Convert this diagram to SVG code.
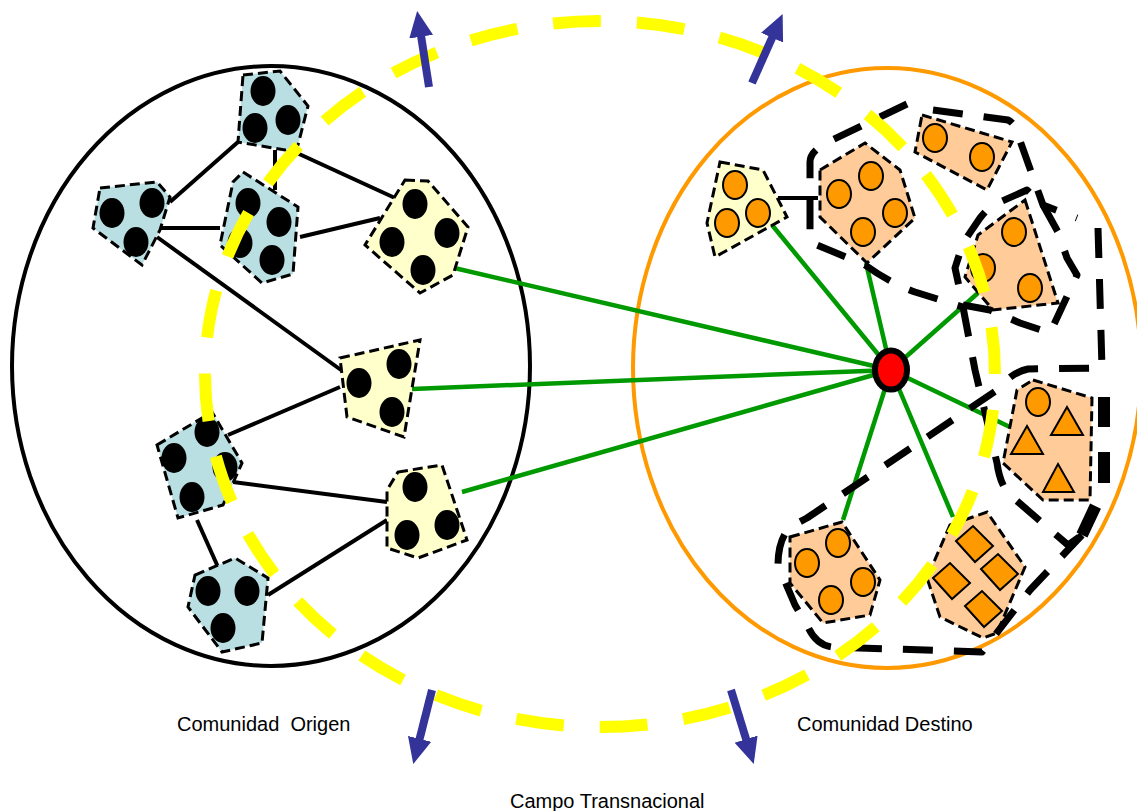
<svg xmlns="http://www.w3.org/2000/svg" width="1137" height="811" viewBox="0 0 1137 811">
<defs>
<style>
.comm{fill:none;stroke-width:4}
.edge{stroke:#000;stroke-width:4;fill:none}
.link{stroke:#009900;stroke-width:4.5;fill:none}
.blue{fill:#BADFE3;stroke:#000;stroke-width:3;stroke-dasharray:10 5}
.yel{fill:#FFFFCC;stroke:#000;stroke-width:3;stroke-dasharray:10 5}
.org{fill:#FFCC99;stroke:#000;stroke-width:3;stroke-dasharray:10 5}
.bd{fill:#000}
.od{fill:#FF9900;stroke:#000;stroke-width:2}
.grp{fill:none;stroke:#000;stroke-width:7;stroke-dasharray:30 21;stroke-linejoin:round}
.field{fill:none;stroke:#FFFF00;stroke-width:12;stroke-dasharray:48 36;stroke-dashoffset:48}
.arr{stroke:#333399;stroke-width:8;fill:none;marker-end:url(#ah)}
.lbl{font-family:"Liberation Sans",Arial,sans-serif;font-size:20px;fill:#000}
</style>
<marker id="ah" markerUnits="userSpaceOnUse" viewBox="-1 -13 28 26" refX="0" refY="0" markerWidth="28" markerHeight="26" orient="auto">
<path d="M-1,-12 L25,0 L-1,12 Z" fill="#333399"/>
</marker>
</defs>

<g id="communities">
<ellipse id="comunidad-origen" class="comm" cx="271" cy="366" rx="259" ry="300" stroke="#000"/>
<ellipse id="comunidad-destino" class="comm" cx="887" cy="368" rx="254" ry="300" stroke="#FF9900" stroke-width="4.5"/>
</g>

<g id="connectors">
<line class="edge" x1="170" y1="202" x2="238" y2="142"/>
<line class="edge" x1="157" y1="228" x2="220" y2="228"/>
<line class="edge" x1="157" y1="237" x2="341" y2="370"/>
<line class="edge" x1="275" y1="150" x2="275" y2="190"/>
<line class="edge" x1="297" y1="153" x2="395" y2="198"/>
<line class="edge" x1="300" y1="237" x2="380" y2="218"/>
<line class="edge" x1="228" y1="435" x2="340" y2="387"/>
<line class="edge" x1="233" y1="482" x2="387" y2="502"/>
<line class="edge" x1="197" y1="520" x2="218" y2="567"/>
<line class="edge" x1="268" y1="595" x2="387" y2="520"/>
<line class="edge" x1="778" y1="198" x2="818" y2="198"/>
<line class="link" x1="450" y1="267" x2="891" y2="370"/>
<line class="link" x1="412" y1="389" x2="891" y2="370"/>
<line class="link" x1="462" y1="492" x2="891" y2="370"/>
<line class="link" x1="772" y1="225" x2="891" y2="370"/>
<line class="link" x1="866" y1="263" x2="891" y2="370"/>
<line class="link" x1="978" y1="293" x2="891" y2="370"/>
<line class="link" x1="1012" y1="428" x2="891" y2="370"/>
<line class="link" x1="953" y1="517" x2="891" y2="370"/>
<line class="link" x1="843" y1="520" x2="891" y2="370"/>
</g>

<g id="node-L1">
<polygon class="blue" points="243,75 280,71 308,106 298,145 285,150 238,142"/>
<ellipse class="bd" cx="263" cy="91" rx="12.5" ry="15"/>
<ellipse class="bd" cx="288" cy="120" rx="12.5" ry="15"/>
<ellipse class="bd" cx="255" cy="128" rx="12.5" ry="15"/>
</g>
<g id="node-L2">
<polygon class="blue" points="100,188 157,182 170,197 160,230 142,265 93,228"/>
<ellipse class="bd" cx="112" cy="213" rx="12.5" ry="15"/>
<ellipse class="bd" cx="152" cy="203" rx="12.5" ry="15"/>
<ellipse class="bd" cx="136" cy="242" rx="12.5" ry="15"/>
</g>
<g id="node-L3">
<polygon class="blue" points="243,172 298,207 293,274 262,283 220,245 233,182"/>
<ellipse class="bd" cx="248" cy="203" rx="12.5" ry="15"/>
<ellipse class="bd" cx="279" cy="222" rx="12.5" ry="15"/>
<ellipse class="bd" cx="240" cy="243" rx="12.5" ry="15"/>
<ellipse class="bd" cx="272" cy="260" rx="12.5" ry="15"/>
</g>
<g id="node-L4">
<polygon class="yel" points="405,180 428,181 468,227 453,275 420,293 365,245"/>
<ellipse class="bd" cx="415" cy="204" rx="12.5" ry="15"/>
<ellipse class="bd" cx="447" cy="233" rx="12.5" ry="15"/>
<ellipse class="bd" cx="392" cy="242" rx="12.5" ry="15"/>
<ellipse class="bd" cx="423" cy="270" rx="12.5" ry="15"/>
</g>
<g id="node-L5">
<polygon class="yel" points="340,358 420,340 404,437 347,417"/>
<ellipse class="bd" cx="359" cy="383" rx="12.5" ry="15"/>
<ellipse class="bd" cx="399" cy="364" rx="12.5" ry="15"/>
<ellipse class="bd" cx="392" cy="412" rx="12.5" ry="15"/>
</g>
<g id="node-L6">
<polygon class="blue" points="157,445 212,412 242,463 223,505 178,518"/>
<ellipse class="bd" cx="207" cy="432" rx="12.5" ry="15"/>
<ellipse class="bd" cx="174" cy="458" rx="12.5" ry="15"/>
<ellipse class="bd" cx="225" cy="467" rx="12.5" ry="15"/>
<ellipse class="bd" cx="192" cy="497" rx="12.5" ry="15"/>
</g>
<g id="node-L7">
<polygon class="yel" points="398,472 442,465 467,540 418,558 387,548 387,490"/>
<ellipse class="bd" cx="415" cy="487" rx="12.5" ry="15"/>
<ellipse class="bd" cx="407" cy="535" rx="12.5" ry="15"/>
<ellipse class="bd" cx="447" cy="525" rx="12.5" ry="15"/>
</g>
<g id="node-L8">
<polygon class="blue" points="195,575 235,558 268,578 262,643 222,652 188,607"/>
<ellipse class="bd" cx="208" cy="591" rx="12.5" ry="15"/>
<ellipse class="bd" cx="247" cy="591" rx="12.5" ry="15"/>
<ellipse class="bd" cx="223" cy="628" rx="12.5" ry="15"/>
</g>

<g id="node-R1">
<polygon class="yel" points="720,162 763,170 787,217 715,257 707,223"/>
<ellipse class="od" cx="735" cy="185" rx="12" ry="14"/>
<ellipse class="od" cx="727" cy="223" rx="12" ry="14"/>
<ellipse class="od" cx="758" cy="213" rx="12" ry="14"/>
</g>
<g id="node-R2">
<polygon class="org" points="820,170 865,143 900,170 915,218 867,263 820,217"/>
<ellipse class="od" cx="839" cy="194" rx="12" ry="14"/>
<ellipse class="od" cx="871" cy="176" rx="12" ry="14"/>
<ellipse class="od" cx="895" cy="213" rx="12" ry="14"/>
<ellipse class="od" cx="863" cy="232" rx="12" ry="14"/>
</g>
<g id="node-R3">
<polygon class="org" points="922,115 1012,142 987,190 915,152"/>
<ellipse class="od" cx="935" cy="138" rx="12" ry="14"/>
<ellipse class="od" cx="982" cy="157" rx="12" ry="14"/>
</g>
<g id="node-R4">
<polygon class="org" points="1025,200 1058,303 993,310 965,277 978,235"/>
<ellipse class="od" cx="1014" cy="232" rx="12" ry="14"/>
<ellipse class="od" cx="983" cy="268" rx="12" ry="14"/>
<ellipse class="od" cx="1030" cy="288" rx="12" ry="14"/>
</g>
<g id="node-R5">
<polygon class="org" points="1033,380 1092,398 1090,500 1043,500 1003,463 1017,390"/>
<ellipse class="od" cx="1038" cy="402" rx="12" ry="14"/>
<polygon class="od" points="1067,407 1083,435 1051,435"/>
<polygon class="od" points="1027,426 1043,454 1011,454"/>
<polygon class="od" points="1058,464 1074,492 1043,492"/>
</g>
<g id="node-R6">
<polygon class="org" points="790,537 842,522 880,580 870,615 823,623 790,583"/>
<ellipse class="od" cx="838" cy="543" rx="12" ry="14"/>
<ellipse class="od" cx="807" cy="563" rx="12" ry="14"/>
<ellipse class="od" cx="863" cy="582" rx="12" ry="14"/>
<ellipse class="od" cx="831" cy="600" rx="12" ry="14"/>
</g>
<g id="node-R7">
<polygon class="org" points="950,525 987,512 1025,567 997,633 983,638 940,617 927,578"/>
<polygon class="od" points="956,541 973,526 993,546 975,562"/>
<polygon class="od" points="981,569 998,554 1018,574 1000,590"/>
<polygon class="od" points="933,578 950,563 970,583 952,599"/>
<polygon class="od" points="965,606 982,591 1002,611 984,627"/>
</g>

<g id="group-outlines">
<path class="grp" d="M907,104 L832,140 Q810,150 810,162 L810,242 L865,265 Q890,283 915,292 L963,307"/>
<path class="grp" d="M933,110 L1008,120 Q1016,124 1018,135 L1043,205 L1077,218"/>
<path class="grp" d="M1043,205 L1058,232 L1067,258 L1077,275 L1050,333 L1020,323 L990,310 L963,305 L955,268 L963,243 L980,218 Q990,205 1000,202 L1027,190 Z"/>
<path class="grp" d="M963,307 L975,370 L997,463 Q1000,485 1010,495 L1068,545 L1082,535"/>
<path class="grp" d="M1098,228 L1102,368 L1028,369 Q1012,372 1000,388 L807,518 L790,527 Q778,540 778,565 L795,605 L808,627 Q816,645 832,647 L982,652 L1030,590 L1082,535"/>
<path class="grp" style="stroke-width:12;stroke-dasharray:0 25 30 25 31 25 40" d="M1104,372 L1104,488 L1082,535"/>
</g>

<g id="node-hub">
<ellipse cx="891" cy="370" rx="16" ry="19.5" fill="#FF0000" stroke="#000" stroke-width="6"/>
</g>

<g id="campo-transnacional">
<ellipse class="field" cx="600" cy="374" rx="395" ry="353"/>
</g>

<g id="arrows">
<line class="arr" x1="429" y1="87" x2="421" y2="35.7"/>
<line class="arr" x1="752" y1="83" x2="772.5" y2="36.8"/>
<line class="arr" x1="432" y1="690" x2="419.4" y2="739.8"/>
<line class="arr" x1="731" y1="690" x2="746.4" y2="740.1"/>
</g>

<g id="labels">
<text class="lbl" x="177" y="731" xml:space="preserve">Comunidad  Origen</text>
<text class="lbl" x="797" y="731">Comunidad Destino</text>
<text class="lbl" x="510" y="808">Campo Transnacional</text>
</g>
</svg>
